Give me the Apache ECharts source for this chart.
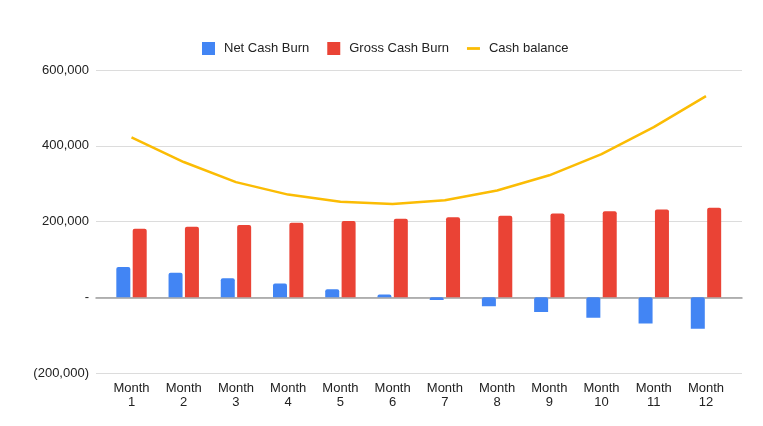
<!DOCTYPE html>
<html>
<head>
<meta charset="utf-8">
<script src="https://cdn.jsdelivr.net/npm/echarts@6/dist/echarts.min.js"></script>
<style>
html,body{margin:0;padding:0;background:#fff;}
#chart{width:763px;height:426px;}
</style>
</head>
<body>
<div id="chart"></div>
<script>
const months = ['Month\n1','Month\n2','Month\n3','Month\n4','Month\n5','Month\n6','Month\n7','Month\n8','Month\n9','Month\n10','Month\n11','Month\n12'];
const netCashBurn = [80000, 65000, 50000, 36000, 21000, 7000, -7000, -24000, -39000, -54000, -69000, -83000];
const grossCashBurn = [181000, 186000, 191000, 197000, 201000, 207000, 211000, 215000, 221000, 227000, 232000, 236000];
const cashBalance = [422000, 357000, 304000, 271000, 252000, 246000, 256000, 282000, 322000, 378000, 449000, 531000];
const yTicks = { min: -200000, max: 600000, interval: 200000 };

const FONT = '"Liberation Sans", Arial, sans-serif';
const fmt = v => {
  if (v === 0) return '-';
  const s = Math.abs(v).toLocaleString('en-US');
  return v < 0 ? '(' + s + ')' : s;
};

const chart = echarts.init(document.getElementById('chart'), null, {renderer: 'canvas'});
chart.setOption({
  animation: false,
  backgroundColor: '#ffffff',
  textStyle: { fontFamily: FONT },
  legend: {
    left: 197, top: 37,
    itemWidth: 13, itemHeight: 13, itemGap: 18,
    textStyle: { fontSize: 13, color: '#222', fontFamily: FONT, padding: [0, 0, 0, 4] },
    data: [
      { name: 'Net Cash Burn', icon: 'rect' },
      { name: 'Gross Cash Burn', icon: 'rect' },
      { name: 'Cash balance', icon: 'path://M0,0 L14,0 L14,3 L0,3 Z', itemStyle: { color: '#FBBC04' } }
    ]
  },
  grid: [
    { left: 96, right: 21, top: 70, bottom: 53 },
    { left: 105.4, right: 30.9, top: 70, bottom: 53 }
  ],
  xAxis: [
    {
      gridIndex: 0, type: 'category', data: months,
      axisLine: { show: true, onZero: true, lineStyle: { color: '#9e9e9e', width: 1.5 } },
      axisTick: { show: false }, axisLabel: { show: false }, splitLine: { show: false }
    },
    {
      gridIndex: 1, type: 'category', data: months,
      axisLine: { show: false }, axisTick: { show: false },
      axisLabel: { fontSize: 13, color: '#222', fontFamily: FONT, lineHeight: 14, margin: 8, interval: 0 }
    }
  ],
  yAxis: [
    {
      gridIndex: 0, type: 'value', min: yTicks.min, max: yTicks.max, interval: yTicks.interval,
      axisLine: { show: false }, axisTick: { show: false },
      axisLabel: { fontSize: 13, color: '#222', fontFamily: FONT, margin: 7, formatter: fmt },
      splitLine: { show: true, lineStyle: { color: '#dcdcdc', width: 1 } }
    },
    {
      gridIndex: 1, type: 'value', min: yTicks.min, max: yTicks.max, interval: yTicks.interval,
      axisLine: { show: false }, axisTick: { show: false }, axisLabel: { show: false },
      splitLine: { show: false }
    }
  ],
  series: [
    {
      name: 'Net Cash Burn', type: 'bar', xAxisIndex: 1, yAxisIndex: 1,
      data: netCashBurn, barWidth: 14, barGap: '17%',
      itemStyle: { color: '#4285F4', borderRadius: [2, 2, 0, 0] }, z: 3
    },
    {
      name: 'Gross Cash Burn', type: 'bar', xAxisIndex: 1, yAxisIndex: 1,
      data: grossCashBurn, barWidth: 14, barGap: '17%',
      itemStyle: { color: '#EA4335', borderRadius: [2, 2, 0, 0] }, z: 3
    },
    {
      name: 'Cash balance', type: 'line', xAxisIndex: 1, yAxisIndex: 1,
      data: cashBalance, symbol: 'none', showSymbol: false,
      lineStyle: { color: '#FBBC04', width: 2.5 }, itemStyle: { color: '#FBBC04' }, z: 4
    }
  ]
});
</script>
</body>
</html>
